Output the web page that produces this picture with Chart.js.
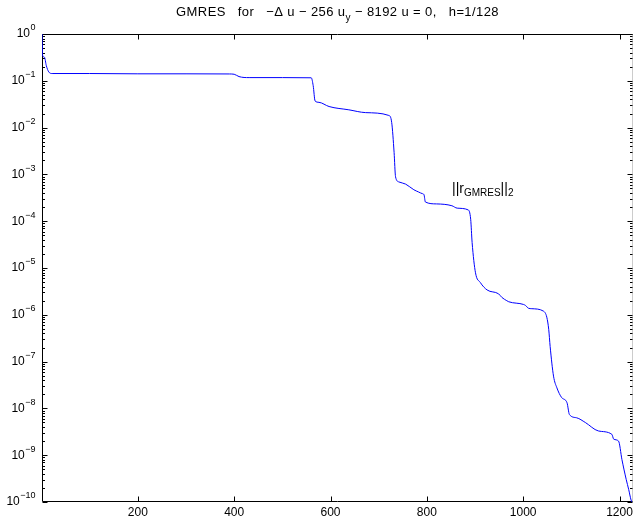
<!DOCTYPE html>
<html>
<head>
<meta charset="utf-8">
<script src="https://cdn.jsdelivr.net/npm/chart.js@4/dist/chart.umd.min.js"></script>
<style>
  html, body { margin: 0; padding: 0; background: #fff; }
  #wrap { width: 636px; height: 524px; }
</style>
</head>
<body>
<div id="wrap"><canvas id="gmres" width="636" height="524"></canvas></div>
<script>
// GMRES residual history
var iterations = [1, 2, 6, 10, 15, 22, 100, 200, 300, 390, 400, 410, 431, 500, 560,
  564, 568, 576, 597, 638, 673, 721, 727, 732, 735, 742, 756, 773, 783, 790, 794,
  797, 820, 852, 863, 886, 891, 894, 901, 911, 925, 949, 956, 966, 970, 1001,
  1005, 1011, 1018, 1042, 1049, 1053, 1056, 1063, 1070, 1080, 1091, 1096, 1111,
  1129, 1156, 1184, 1188, 1198, 1205, 1214, 1219, 1224, 1228];
var residual = [1.0, 0.355, 0.32, 0.21, 0.155, 0.143, 0.143, 0.141, 0.141, 0.14,
  0.138, 0.123, 0.117, 0.117, 0.116,
  0.079, 0.037, 0.0347, 0.0282, 0.024, 0.0209, 0.0182, 0.0129, 2.95e-3, 8.9e-4,
  6.9e-4, 6.2e-4, 4.7e-4, 4.2e-4, 3.9e-4, 3.7e-4,
  2.57e-4, 2.34e-4, 2.14e-4, 1.9e-4, 1.74e-4, 1.1e-4, 3.5e-5, 7.9e-6, 4.9e-6,
  3.4e-6, 2.8e-6, 2.34e-6, 2.0e-6, 1.9e-6, 1.66e-6,
  1.58e-6, 1.38e-6, 1.35e-6, 1.2e-6, 8.9e-7, 4.9e-7, 2.1e-7, 4.9e-8, 2.75e-8,
  1.7e-8, 1.32e-8, 7.4e-9, 6.3e-9,
  5.0e-9, 3.3e-9, 2.8e-9, 2.2e-9, 2.0e-9, 8.1e-10, 3.0e-10, 1.86e-10, 1.1e-10, 9e-11];

var xTicks = [200, 400, 600, 800, 1000, 1200];
var yExponents = [0, -1, -2, -3, -4, -5, -6, -7, -8, -9, -10];

var FONT = '"Liberation Sans", Arial, Helvetica, sans-serif';

function edges(chart) {
  var a = chart.chartArea;
  return {
    L: Math.round(a.left) + 0.5, R: Math.round(a.right) - 0.5,
    T: Math.round(a.top) + 0.5, B: Math.round(a.bottom) - 0.5
  };
}

// box + inward ticks go under the curve, text on top
var axesBox = {
  id: 'axesBox',
  beforeDatasetsDraw: function (chart) {
    var ctx = chart.ctx, e = edges(chart);
    var xs = chart.scales.x, ys = chart.scales.y;
    ctx.save();
    ctx.lineWidth = 1;

    // right edge (light, dotted)
    ctx.strokeStyle = '#9a9a9a';
    ctx.setLineDash([1, 1]);
    ctx.beginPath(); ctx.moveTo(e.R, e.T); ctx.lineTo(e.R, e.B); ctx.stroke();
    ctx.setLineDash([]);

    ctx.strokeStyle = '#000';
    ctx.beginPath();
    ctx.moveTo(e.R, e.T); ctx.lineTo(e.L, e.T); ctx.lineTo(e.L, e.B); ctx.lineTo(e.R, e.B);
    ctx.stroke();

    ctx.beginPath();
    yExponents.forEach(function (k) {
      var py = Math.round(ys.getPixelForValue(Math.pow(10, k))) + 0.5;
      ctx.moveTo(e.L, py); ctx.lineTo(e.L + 5, py);
      ctx.moveTo(e.R, py); ctx.lineTo(e.R - 5, py);
      if (k > -10) {
        for (var m = 2; m <= 9; m++) {
          var pm = Math.round(ys.getPixelForValue(m * Math.pow(10, k - 1))) + 0.5;
          ctx.moveTo(e.L, pm); ctx.lineTo(e.L + 2.5, pm);
          ctx.moveTo(e.R, pm); ctx.lineTo(e.R - 2.5, pm);
        }
      }
    });
    xTicks.forEach(function (v) {
      var px = Math.round(xs.getPixelForValue(v)) + 0.5;
      ctx.moveTo(px, e.B); ctx.lineTo(px, e.B - 5);
      ctx.moveTo(px, e.T); ctx.lineTo(px, e.T + 5);
    });
    ctx.stroke();
    ctx.restore();
  },
  afterDraw: function (chart) {
    var ctx = chart.ctx, a = chart.chartArea, e = edges(chart);
    var xs = chart.scales.x, ys = chart.scales.y;
    ctx.save();
    ctx.fillStyle = '#000';

    ctx.font = '12px ' + FONT;
    ctx.textAlign = 'center';
    ctx.textBaseline = 'top';
    xTicks.forEach(function (v) {
      ctx.fillText(String(v), xs.getPixelForValue(v), e.B + 5);
    });

    ctx.textBaseline = 'middle';
    yExponents.forEach(function (k) {
      var py = ys.getPixelForValue(Math.pow(10, k));
      var ex = k === 0 ? '0' : '\u2212' + (-k);
      ctx.font = '9px ' + FONT;
      var ew = ctx.measureText(ex).width;
      ctx.textAlign = 'right';
      var right = e.L - 7;
      ctx.fillText(ex, right, py - 6);
      ctx.font = '12px ' + FONT;
      ctx.fillText('10', right - ew - 0.5, py);
    });

    ctx.letterSpacing = '0.4px';
    drawRich(ctx, [
      ['GMRES   for   \u2212\u0394 u \u2212 256 u', 13, 0],
      ['y', 10, 5],
      [' \u2212 8192 u = 0,   h=1/128', 13, 0]
    ], (a.left + a.right) / 2, 16, 'center');
    ctx.letterSpacing = '0px';

    drawRich(ctx, [
      ['||r', 14, 0],
      ['GMRES', 10, 3],
      ['||', 14, 0],
      ['2', 10, 3]
    ], 452, 193, 'left');

    ctx.restore();
  }
};

function drawRich(ctx, parts, x, baseline, align) {
  var total = 0;
  parts.forEach(function (p) { ctx.font = p[1] + 'px ' + FONT; total += ctx.measureText(p[0]).width; });
  var cx = align === 'center' ? x - total / 2 : x;
  ctx.textAlign = 'left';
  ctx.textBaseline = 'alphabetic';
  parts.forEach(function (p) {
    ctx.font = p[1] + 'px ' + FONT;
    ctx.fillText(p[0], cx, baseline + p[2]);
    cx += ctx.measureText(p[0]).width;
  });
}

var points = iterations.map(function (it, i) { return { x: it, y: residual[i] }; });

new Chart(document.getElementById('gmres'), {
  type: 'line',
  data: {
    datasets: [{
      data: points,
      borderColor: '#0000ff',
      borderWidth: 1,
      pointRadius: 0,
      fill: false,
      cubicInterpolationMode: 'monotone'
    }]
  },
  options: {
    responsive: false,
    animation: false,
    events: [],
    layout: { padding: { left: 42, top: 34, right: 3, bottom: 22 } },
    plugins: { legend: { display: false }, tooltip: { enabled: false }, title: { display: false } },
    scales: {
      x: { type: 'linear', min: 1, max: 1228, display: false },
      y: { type: 'logarithmic', min: 1e-10, max: 1, display: false }
    }
  },
  plugins: [axesBox]
});
</script>
</body>
</html>
